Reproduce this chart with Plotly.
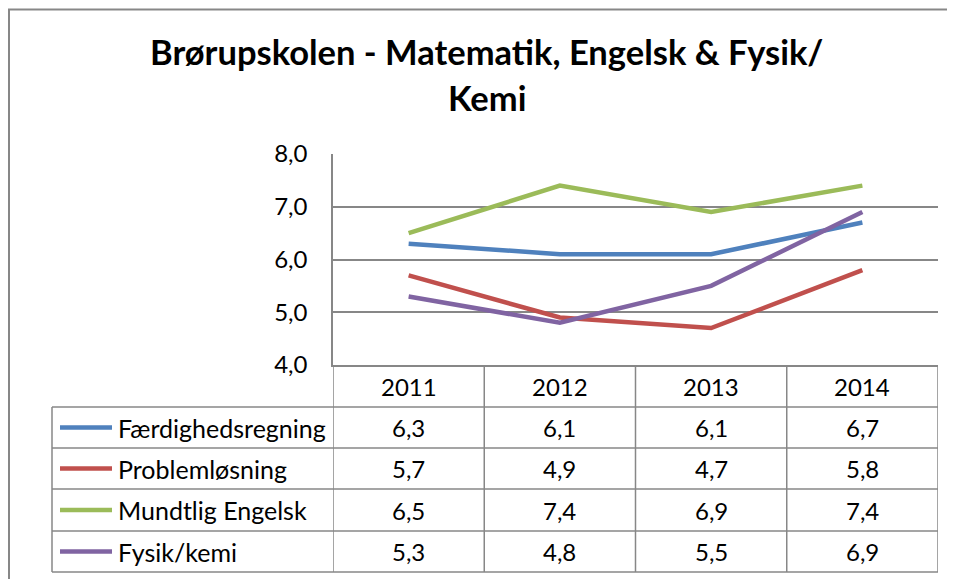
import plotly.graph_objects as go

years = ["2011", "2012", "2013", "2014"]
series_names = ["Færdighedsregning", "Problemløsning", "Mundtlig Engelsk", "Fysik/kemi"]
faerdighedsregning = [6.3, 6.1, 6.1, 6.7]
problemloesning = [5.7, 4.9, 4.7, 5.8]
mundtlig_engelsk = [6.5, 7.4, 6.9, 7.4]
fysik_kemi = [5.3, 4.8, 5.5, 6.9]
y_ticks = [4, 5, 6, 7, 8]
title_line1 = "Brørupskolen - Matematik, Engelsk & Fysik/"
title_line2 = "Kemi"

series_values = [faerdighedsregning, problemloesning, mundtlig_engelsk, fysik_kemi]
colors = ["#4F81BD", "#C0504D", "#9BBB59", "#8064A2"]

# page has an 8px body margin; positions below are given in screenshot pixels
OFF = 8
SW, SH = 955, 579
W, H = SW - OFF, SH - OFF
L, R, T, B = 333, 938, 154, 365
FONT = "Lato"
GRID = "#878787"
NUM_SIZE = 24
NAME_SIZE = 25


def xp(px):
    return (px - L) / (R - L)


def yp(py):
    return (B - py) / (B - T)


def fmt(v):
    return f"{v:.1f}".replace(".", ",")


fig = go.Figure()
xs = list(range(len(years)))
for name, vals, c in zip(series_names, series_values, colors):
    fig.add_trace(go.Scatter(x=xs, y=vals, mode="lines", name=name,
                             line=dict(color=c, width=4.5),
                             showlegend=False, hoverinfo="skip"))

shapes = []
annotations = []

# outer chart border
shapes.append(dict(type="rect", xref="paper", yref="paper",
                   x0=xp(9), x1=xp(1100), y0=yp(800), y1=yp(9.5),
                   line=dict(color=GRID, width=2), layer="below"))

# table grid
header_bottom = 407
row_edges = [407, 448, 489, 531, 572]
n = len(years)
for k in range(n + 1):
    xv = k - 0.5
    shapes.append(dict(type="line", xref="x", yref="paper",
                       x0=xv, x1=xv, y0=yp(B), y1=yp(row_edges[-1]),
                       line=dict(color=GRID, width=1.5)))
shapes.append(dict(type="line", xref="paper", yref="paper",
                   x0=xp(52), x1=xp(52), y0=yp(row_edges[0]), y1=yp(row_edges[-1]),
                   line=dict(color=GRID, width=1.5)))
for e in row_edges:
    shapes.append(dict(type="line", xref="paper", yref="paper",
                       x0=xp(52), x1=1, y0=yp(e), y1=yp(e),
                       line=dict(color=GRID, width=1.5)))

for i, yr in enumerate(years):
    annotations.append(dict(x=i, y=yp((B + header_bottom) / 2), xref="x", yref="paper",
                            text=yr, showarrow=False, xanchor="center", yanchor="middle",
                            font=dict(family=FONT, size=NUM_SIZE, color="black")))

for r, (name, vals, c) in enumerate(zip(series_names, series_values, colors)):
    cy = (row_edges[r] + row_edges[r + 1]) / 2
    shapes.append(dict(type="line", xref="paper", yref="paper",
                       x0=xp(60), x1=xp(112), y0=yp(cy), y1=yp(cy),
                       line=dict(color=c, width=4.5)))
    annotations.append(dict(x=xp(116), y=yp(cy), xref="paper", yref="paper",
                            text=name, showarrow=False, xanchor="left", yanchor="middle",
                            font=dict(family=FONT, size=NAME_SIZE, color="black")))
    for i, v in enumerate(vals):
        annotations.append(dict(x=i, y=yp(cy), xref="x", yref="paper",
                                text=fmt(v), showarrow=False, xanchor="center", yanchor="middle",
                                font=dict(family=FONT, size=NUM_SIZE, color="black")))

annotations.append(dict(x=xp(486), y=yp(52), xref="paper", yref="paper",
                        text=f"<b>{title_line1}</b>", showarrow=False,
                        xanchor="center", yanchor="middle",
                        font=dict(family=FONT, size=34.5, color="black")))
annotations.append(dict(x=xp(487), y=yp(97), xref="paper", yref="paper",
                        text=f"<b>{title_line2}</b>", showarrow=False,
                        xanchor="center", yanchor="middle",
                        font=dict(family=FONT, size=34.5, color="black")))

fig.update_layout(
    width=W, height=H,
    margin=dict(l=L - OFF, r=SW - R, t=T - OFF, b=SH - B),
    paper_bgcolor="white", plot_bgcolor="white",
    separators=",.",
    shapes=shapes, annotations=annotations,
    xaxis=dict(range=[-0.5, n - 0.5], showticklabels=False, showgrid=False,
               zeroline=False, showline=True, linecolor=GRID, linewidth=1.5,
               fixedrange=True),
    yaxis=dict(range=[y_ticks[0], y_ticks[-1]], tickvals=y_ticks, tickformat=".1f",
               showgrid=True, gridcolor=GRID, gridwidth=1.5, zeroline=False,
               showline=True, linecolor=GRID, linewidth=1.5,
               ticks="", ticklabelstandoff=19,
               tickfont=dict(family=FONT, size=NUM_SIZE, color="black"), fixedrange=True),
)

fig.write_html("out.html")
